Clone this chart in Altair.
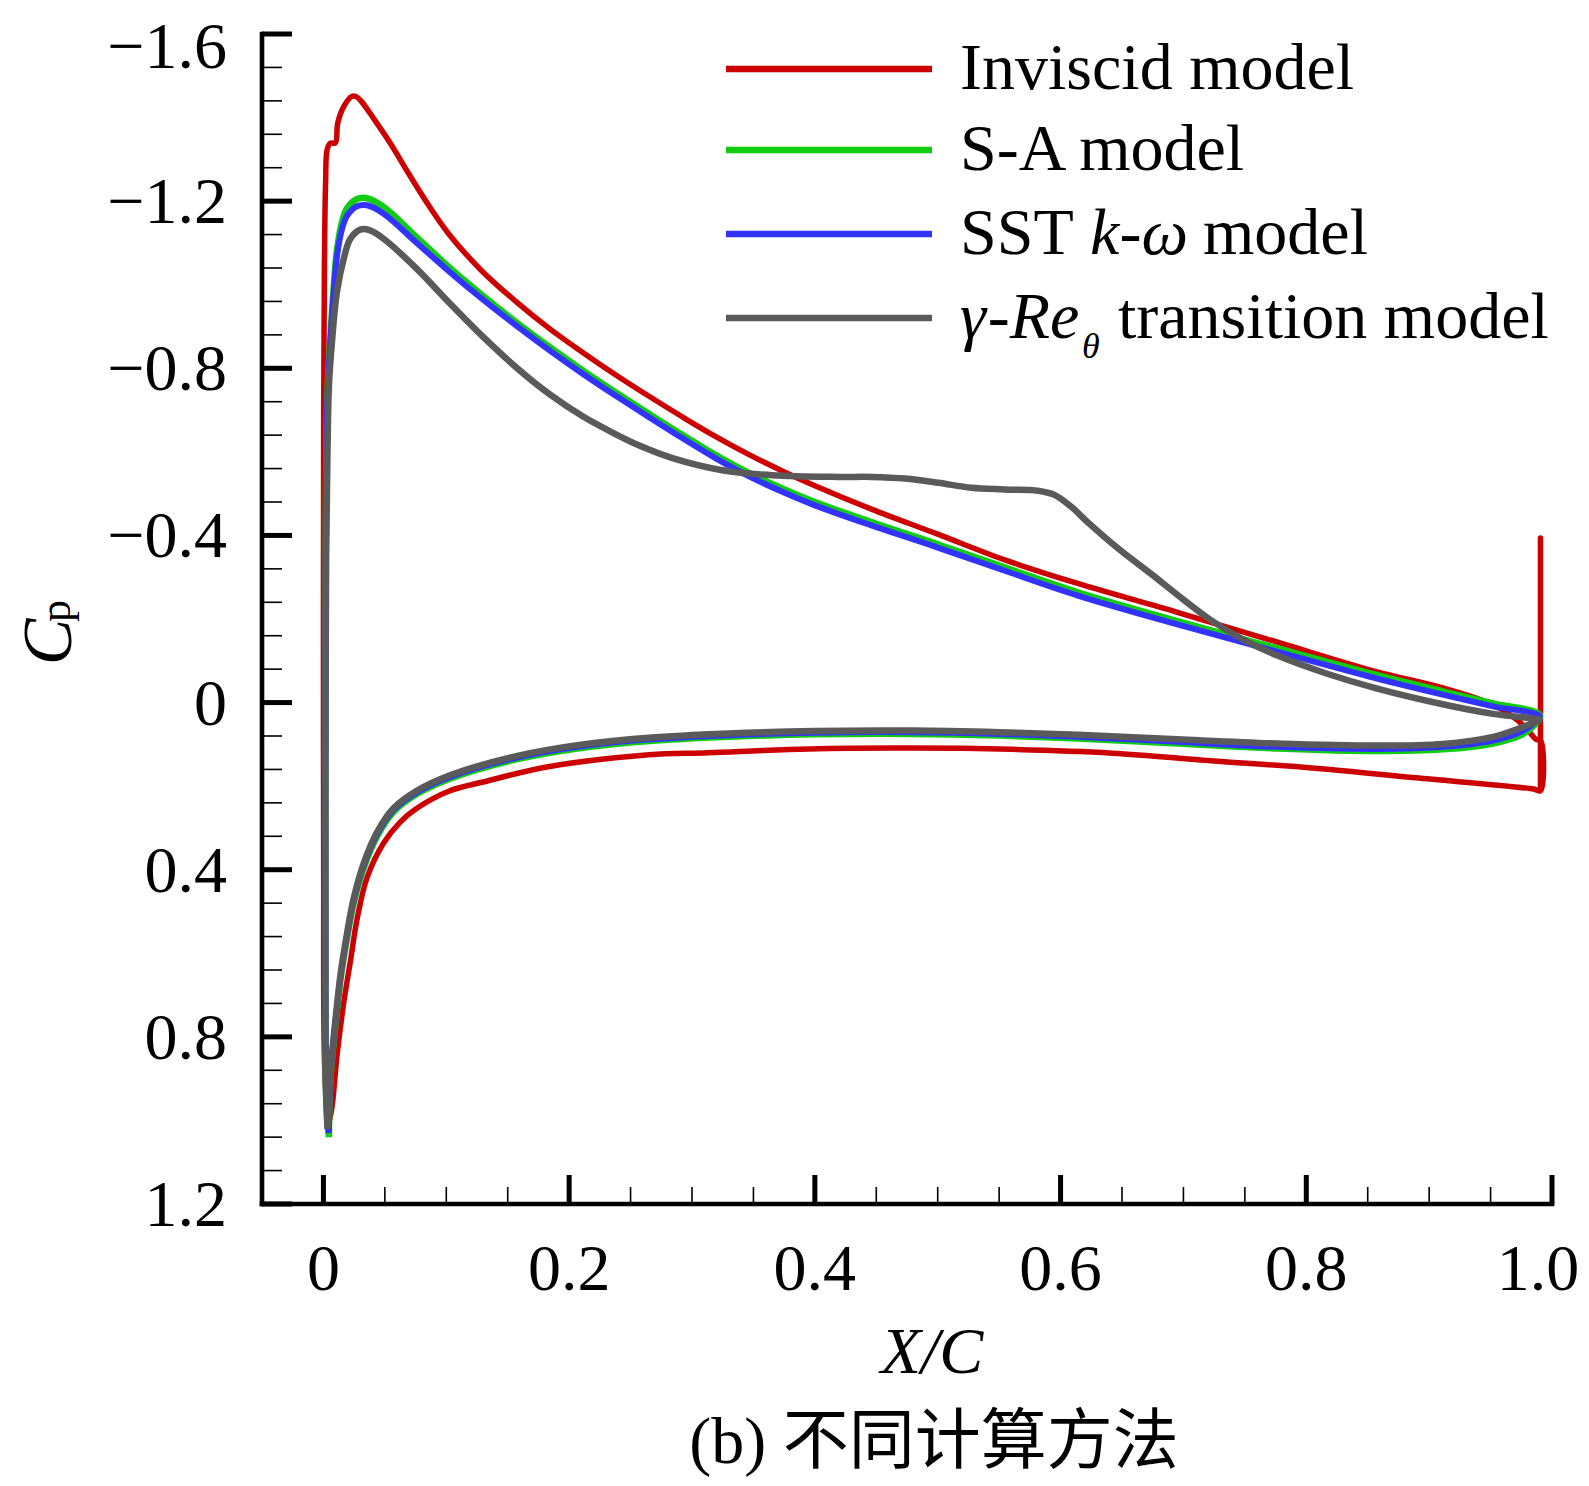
import altair as alt
import pandas as pd

# ---------------- data ----------------
# Inviscid model (closed loop: leading edge -> upper surface -> TE spike -> lower surface)
inv_x = [0.0050, 0.0030, 0.0008, 0.0002, 0.0000, 0.0002, 0.0008, 0.0018, 0.0030, 0.0057,
         0.0097, 0.0116, 0.0165, 0.0233, 0.0273, 0.0314, 0.0408, 0.0543, 0.0706, 0.0868,
         0.103, 0.130, 0.157, 0.184, 0.211, 0.238, 0.265, 0.292, 0.319, 0.346,
         0.373, 0.400, 0.446, 0.500, 0.554, 0.614, 0.695, 0.776, 0.857, 0.911,
         0.952, 0.971, 0.981, 0.987, 0.9906, 0.9906, 0.9906, 0.985, 0.889, 0.807,
         0.722, 0.642, 0.560, 0.477, 0.395, 0.313, 0.265, 0.184, 0.130, 0.103,
         0.076, 0.0625, 0.049, 0.0355, 0.0274, 0.0220, 0.0166, 0.0112, 0.0071, 0.0050]
inv_cp = [1.00, 0.97, 0.85, 0.40, -0.20, -0.70, -1.05, -1.25, -1.323, -1.339,
          -1.339, -1.386, -1.426, -1.451, -1.449, -1.437, -1.398, -1.339, -1.260, -1.185,
          -1.118, -1.030, -0.959, -0.895, -0.838, -0.784, -0.733, -0.684, -0.637, -0.594,
          -0.555, -0.519, -0.463, -0.403, -0.342, -0.285, -0.216, -0.145, -0.074, -0.035,
          0.005, 0.040, 0.068, 0.088, 0.090, -0.394, 0.211, 0.207, 0.180, 0.157,
          0.139, 0.121, 0.112, 0.109, 0.111, 0.120, 0.125, 0.153, 0.190, 0.211,
          0.253, 0.286, 0.336, 0.419, 0.518, 0.618, 0.717, 0.841, 0.966, 1.00]
INV_SPIKE = 45  # position of the trailing-edge spike top in the arrays above

# S-A model
sa_x = [0.0044, 0.0025, 0.0016, 0.0016, 0.0020, 0.0032, 0.0057, 0.0084, 0.0111, 0.0151,
        0.0192, 0.0273, 0.0354, 0.049, 0.076, 0.103, 0.130, 0.157, 0.184, 0.211,
        0.238, 0.265, 0.292, 0.319, 0.346, 0.373, 0.400, 0.446, 0.500, 0.554,
        0.614, 0.695, 0.776, 0.857, 0.911, 0.952, 0.990, 0.985, 0.976, 0.952,
        0.911, 0.857, 0.776, 0.695, 0.614, 0.550, 0.480, 0.400, 0.330, 0.265,
        0.211, 0.157, 0.103, 0.076, 0.057, 0.0435, 0.0328, 0.0247, 0.0193, 0.0139,
        0.0098, 0.0058, 0.0044]
sa_cp = [1.04, 0.96, 0.60, 0.00, -0.46, -0.73, -0.875, -0.995, -1.085, -1.150,
         -1.183, -1.205, -1.207, -1.186, -1.113, -1.040, -0.973, -0.910, -0.851, -0.795,
         -0.742, -0.691, -0.641, -0.593, -0.550, -0.513, -0.480, -0.432, -0.379, -0.324,
         -0.264, -0.195, -0.130, -0.066, -0.027, 0.002, 0.030, 0.056, 0.076, 0.098,
         0.112, 0.116, 0.110, 0.098, 0.086, 0.079, 0.075, 0.076, 0.082, 0.092,
         0.108, 0.136, 0.182, 0.219, 0.262, 0.321, 0.396, 0.479, 0.562, 0.663,
         0.772, 0.897, 1.04]

# SST k-omega model
sst_x = [0.0044, 0.0025, 0.0016, 0.0016, 0.0020, 0.0032, 0.0057, 0.0084, 0.0111, 0.0151,
         0.0192, 0.0273, 0.0354, 0.049, 0.076, 0.103, 0.130, 0.157, 0.184, 0.211,
         0.238, 0.265, 0.292, 0.319, 0.346, 0.373, 0.400, 0.446, 0.500, 0.554,
         0.614, 0.695, 0.776, 0.857, 0.911, 0.952, 0.990, 0.985, 0.976, 0.952,
         0.911, 0.857, 0.776, 0.695, 0.614, 0.550, 0.480, 0.400, 0.330, 0.265,
         0.211, 0.157, 0.103, 0.076, 0.057, 0.0435, 0.0328, 0.0247, 0.0193, 0.0139,
         0.0098, 0.0058, 0.0044]
sst_cp = [1.03, 0.95, 0.60, 0.00, -0.45, -0.72, -0.865, -0.983, -1.070, -1.133,
          -1.165, -1.188, -1.190, -1.170, -1.100, -1.030, -0.964, -0.902, -0.843, -0.787,
          -0.734, -0.683, -0.633, -0.585, -0.542, -0.505, -0.472, -0.424, -0.371, -0.316,
          -0.256, -0.187, -0.122, -0.058, -0.019, 0.009, 0.033, 0.050, 0.068, 0.091,
          0.106, 0.111, 0.106, 0.094, 0.082, 0.075, 0.071, 0.072, 0.078, 0.088,
          0.104, 0.132, 0.178, 0.215, 0.257, 0.316, 0.390, 0.473, 0.556, 0.657,
          0.765, 0.890, 1.03]

# gamma-Re_theta transition model
tr_x = [0.0033, 0.0018, 0.0016, 0.0017, 0.0022, 0.0033, 0.0045, 0.0070, 0.0110, 0.0165,
        0.0219, 0.0300, 0.0380, 0.049, 0.076, 0.103, 0.130, 0.157, 0.184, 0.211,
        0.238, 0.2571, 0.2841, 0.3247, 0.3652, 0.4193, 0.4463, 0.4734, 0.5004, 0.5274,
        0.5545, 0.5815, 0.5950, 0.6085, 0.6220, 0.6464, 0.675, 0.695, 0.722, 0.749,
        0.776, 0.817, 0.857, 0.911, 0.952, 0.990, 0.987, 0.973, 0.952, 0.911,
        0.857, 0.776, 0.695, 0.614, 0.550, 0.480, 0.400, 0.330, 0.265, 0.211,
        0.157, 0.103, 0.076, 0.057, 0.0435, 0.0328, 0.0247, 0.0193, 0.0139, 0.0098,
        0.0058, 0.0040, 0.0033]
tr_cp = [1.02, 0.90, 0.50, 0.00, -0.35, -0.60, -0.76, -0.865, -0.983, -1.062,
         -1.110, -1.132, -1.130, -1.110, -1.038, -0.955, -0.875, -0.802, -0.738, -0.685,
         -0.642, -0.615, -0.585, -0.556, -0.544, -0.540, -0.540, -0.536, -0.526, -0.514,
         -0.510, -0.507, -0.497, -0.469, -0.432, -0.370, -0.305, -0.258, -0.198, -0.150,
         -0.113, -0.069, -0.034, 0.004, 0.027, 0.042, 0.046, 0.062, 0.082, 0.099,
         0.103, 0.098, 0.088, 0.077, 0.071, 0.067, 0.068, 0.074, 0.084, 0.100,
         0.128, 0.174, 0.211, 0.253, 0.311, 0.385, 0.468, 0.551, 0.651, 0.759,
         0.883, 0.990, 1.02]

# axis ticks and tick labels
x_major = [0.0, 0.2, 0.4, 0.6, 0.8, 1.0]
x_labels = ["0", "0.2", "0.4", "0.6", "0.8", "1.0"]
x_minor = [0.05, 0.1, 0.15, 0.25, 0.3, 0.35, 0.45, 0.5, 0.55, 0.65, 0.7, 0.75, 0.85, 0.9, 0.95]
y_major = [-1.6, -1.2, -0.8, -0.4, 0.0, 0.4, 0.8, 1.2]
y_labels = ["\u22121.6", "\u22121.2", "\u22120.8", "\u22120.4", "0", "0.4", "0.8", "1.2"]
y_minor = [-1.52, -1.44, -1.36, -1.28, -1.12, -1.04, -0.96, -0.88, -0.72, -0.64, -0.56, -0.48,
           -0.32, -0.24, -0.16, -0.08, 0.08, 0.16, 0.24, 0.32, 0.48, 0.56, 0.64, 0.72,
           0.88, 0.96, 1.04, 1.12]

# ---------------- layout / style ----------------
W, H = 1290, 1170
SERIF = "Liberation Serif"
FS = 66
RED, GREEN, BLUE, GRAY = "#cc0000", "#11cc11", "#3333ff", "#5a5a5a"

x_scale = alt.Scale(domain=[-0.05, 1.0], nice=False, zero=False)
y_scale = alt.Scale(domain=[-1.6, 1.2], reverse=True, nice=False, zero=False)


def curve_df(xs, cps):
    return pd.DataFrame({"x": xs, "cp": cps, "i": list(range(len(xs)))})


def curve(df, color, width, interp="catmull-rom", filt=None):
    ch = alt.Chart(df)
    if filt is not None:
        ch = ch.transform_filter(filt)
    return ch.mark_line(color=color, strokeWidth=width, strokeJoin="round",
                        interpolate=interp, clip=True).encode(
        x=alt.X("x:Q", scale=x_scale, axis=None),
        y=alt.Y("cp:Q", scale=y_scale, axis=None),
        order=alt.Order("i:Q"),
    )


def yticks(vals, length, width):
    return alt.Chart(pd.DataFrame({"v": vals})).mark_rule(color="black", strokeWidth=width).encode(
        y=alt.Y("v:Q", scale=y_scale, axis=None), x=alt.value(0), x2=alt.value(length))


def xticks(vals, length, width):
    return alt.Chart(pd.DataFrame({"v": vals})).mark_rule(color="black", strokeWidth=width).encode(
        x=alt.X("v:Q", scale=x_scale, axis=None), y=alt.value(H), y2=alt.value(H - length))


one = pd.DataFrame({"k": [0]})


def text(s, x, y, size=FS, style="normal", align="left", baseline="alphabetic", angle=0, font=SERIF):
    return alt.Chart(one).mark_text(text=s, font=font, fontSize=size, fontStyle=style, align=align,
                                    baseline=baseline, angle=angle, color="black").encode(
        x=alt.value(x), y=alt.value(y))


def legend_line(color, y):
    return alt.Chart(one).mark_rule(color=color, strokeWidth=6.5).encode(
        x=alt.value(464), x2=alt.value(670), y=alt.value(y))


def ylabels(vals, labs, dy):
    return alt.Chart(pd.DataFrame({"v": vals, "lab": labs})).mark_text(
        font=SERIF, fontSize=FS, align="right", baseline="alphabetic", dy=dy, color="black").encode(
        y=alt.Y("v:Q", scale=y_scale, axis=None), x=alt.value(-35), text="lab:N")


def xlabels(vals, labs, dx):
    return alt.Chart(pd.DataFrame({"v": vals, "lab": labs})).mark_text(
        font=SERIF, fontSize=FS, align="center", baseline="alphabetic", dx=dx, color="black").encode(
        x=alt.X("v:Q", scale=x_scale, axis=None), y=alt.value(H + 86), text="lab:N")


# axis lines
y_domain = alt.Chart(one).mark_rule(color="black", strokeWidth=4.6, strokeCap="square").encode(
    x=alt.value(0), y=alt.value(0), y2=alt.value(H))
x_domain = alt.Chart(one).mark_rule(color="black", strokeWidth=4.6, strokeCap="square").encode(
    y=alt.value(H), x=alt.value(0), x2=alt.value(W))

inv_df = curve_df(inv_x, inv_cp)
rows = [35, 116, 200, 284]
TX = 698

layers = [
    curve(inv_df, RED, 5.5, filt=f"datum.i != {INV_SPIKE}"),
    curve(inv_df, RED, 5.5, interp="linear",
          filt=f"datum.i >= {INV_SPIKE - 1} && datum.i <= {INV_SPIKE + 1}"),
    curve(curve_df(sa_x, sa_cp), GREEN, 6.5),
    curve(curve_df(sst_x, sst_cp), BLUE, 6.0),
    curve(curve_df(tr_x, tr_cp), GRAY, 6.5),
    yticks(y_major, 30, 5),
    yticks(y_minor, 20, 1.6),
    xticks(x_major, 29, 5),
    xticks(x_minor, 17, 1.6),
    y_domain,
    x_domain,
    ylabels(y_major[:1], y_labels[:1], 34),
    ylabels(y_major[1:], y_labels[1:], 22),
    xlabels(x_major[:-1], x_labels[:-1], 0),
    xlabels(x_major[-1:], x_labels[-1:], -14),
    # legend
    legend_line(RED, rows[0]),
    legend_line(GREEN, rows[1]),
    legend_line(BLUE, rows[2]),
    legend_line(GRAY, rows[3]),
    text("Inviscid model", TX, rows[0] + 20),
    text("S-A model", TX, rows[1] + 20),
    text("SST", TX, rows[2] + 20),
    text("k", TX + 130, rows[2] + 20, style="italic"),
    text("-", TX + 159.5, rows[2] + 20),
    text("\u03c9", TX + 181.5, rows[2] + 20, style="italic"),
    text("model", TX + 243, rows[2] + 20),
    text("\u03b3", TX, rows[3] + 20, style="italic"),
    text("-", TX + 27.7, rows[3] + 20),
    text("Re", TX + 49.7, rows[3] + 20, style="italic"),
    text("\u03b8", TX + 122, rows[3] + 40, size=36, style="italic"),
    text("transition model", TX + 158, rows[3] + 20),
    # axis titles and caption
    text("X/C", 670, 1339, style="italic", align="center"),
    text("C", -191, 608, size=70, style="italic", align="center", angle=270),
    text("p", -192, 577, size=44, align="center", angle=270),
    text("(b) 不同计算方法", 672, 1429, align="center", font="Liberation Serif, Noto Sans CJK SC"),
]

chart = alt.layer(*layers).properties(
    width=W, height=H,
    padding={"left": 254, "top": 26, "right": 29, "bottom": 274},
    autosize=alt.AutoSizeParams(type="none"),
).configure_view(stroke=None)

chart.save("out.html", embed_options={"renderer": "svg", "actions": False})
